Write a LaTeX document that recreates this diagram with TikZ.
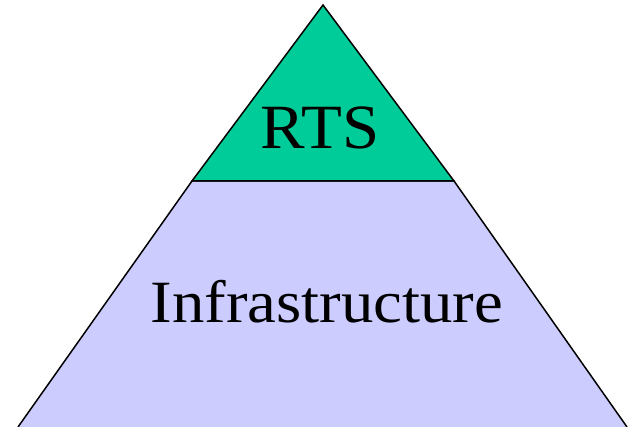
\documentclass[tikz,border=0pt]{standalone}
\usepackage{graphicx}
\usepackage{fontspec}
\setmainfont{Liberation Serif}
\definecolor{rtsgreen}{RGB}{0,204,153}
\definecolor{infrablue}{RGB}{204,204,255}
\begin{document}
\begin{tikzpicture}[x=1pt, y=-1pt,
    layer/.style={draw=black, line width=1.5pt, line join=miter},
    label/.style={anchor=base, inner sep=0pt}]
    % Frame of the picture
    \useasboundingbox (0,0) rectangle (629,427);

    % Lower part of the pyramid, cut off at the bottom
    \fill[infrablue] (192,181) -- (454,181) -- (627,427) -- (18,427) -- cycle;
    \draw[layer] (18,427) -- (192,181) -- (454,181) -- (627,427);

    % Top of the pyramid
    \draw[layer, fill=rtsgreen] (323,5) -- (454,181) -- (192,181) -- cycle;

    % Texts
    \node[label] (rts) at (320,149) {\scalebox{1.06}[1]{\fontsize{63}{70}\selectfont RTS}};
    \node[label] (infra) at (327,323) {\scalebox{1.08}[1]{\fontsize{60}{66}\selectfont Infrastructure}};
\end{tikzpicture}
\end{document}
